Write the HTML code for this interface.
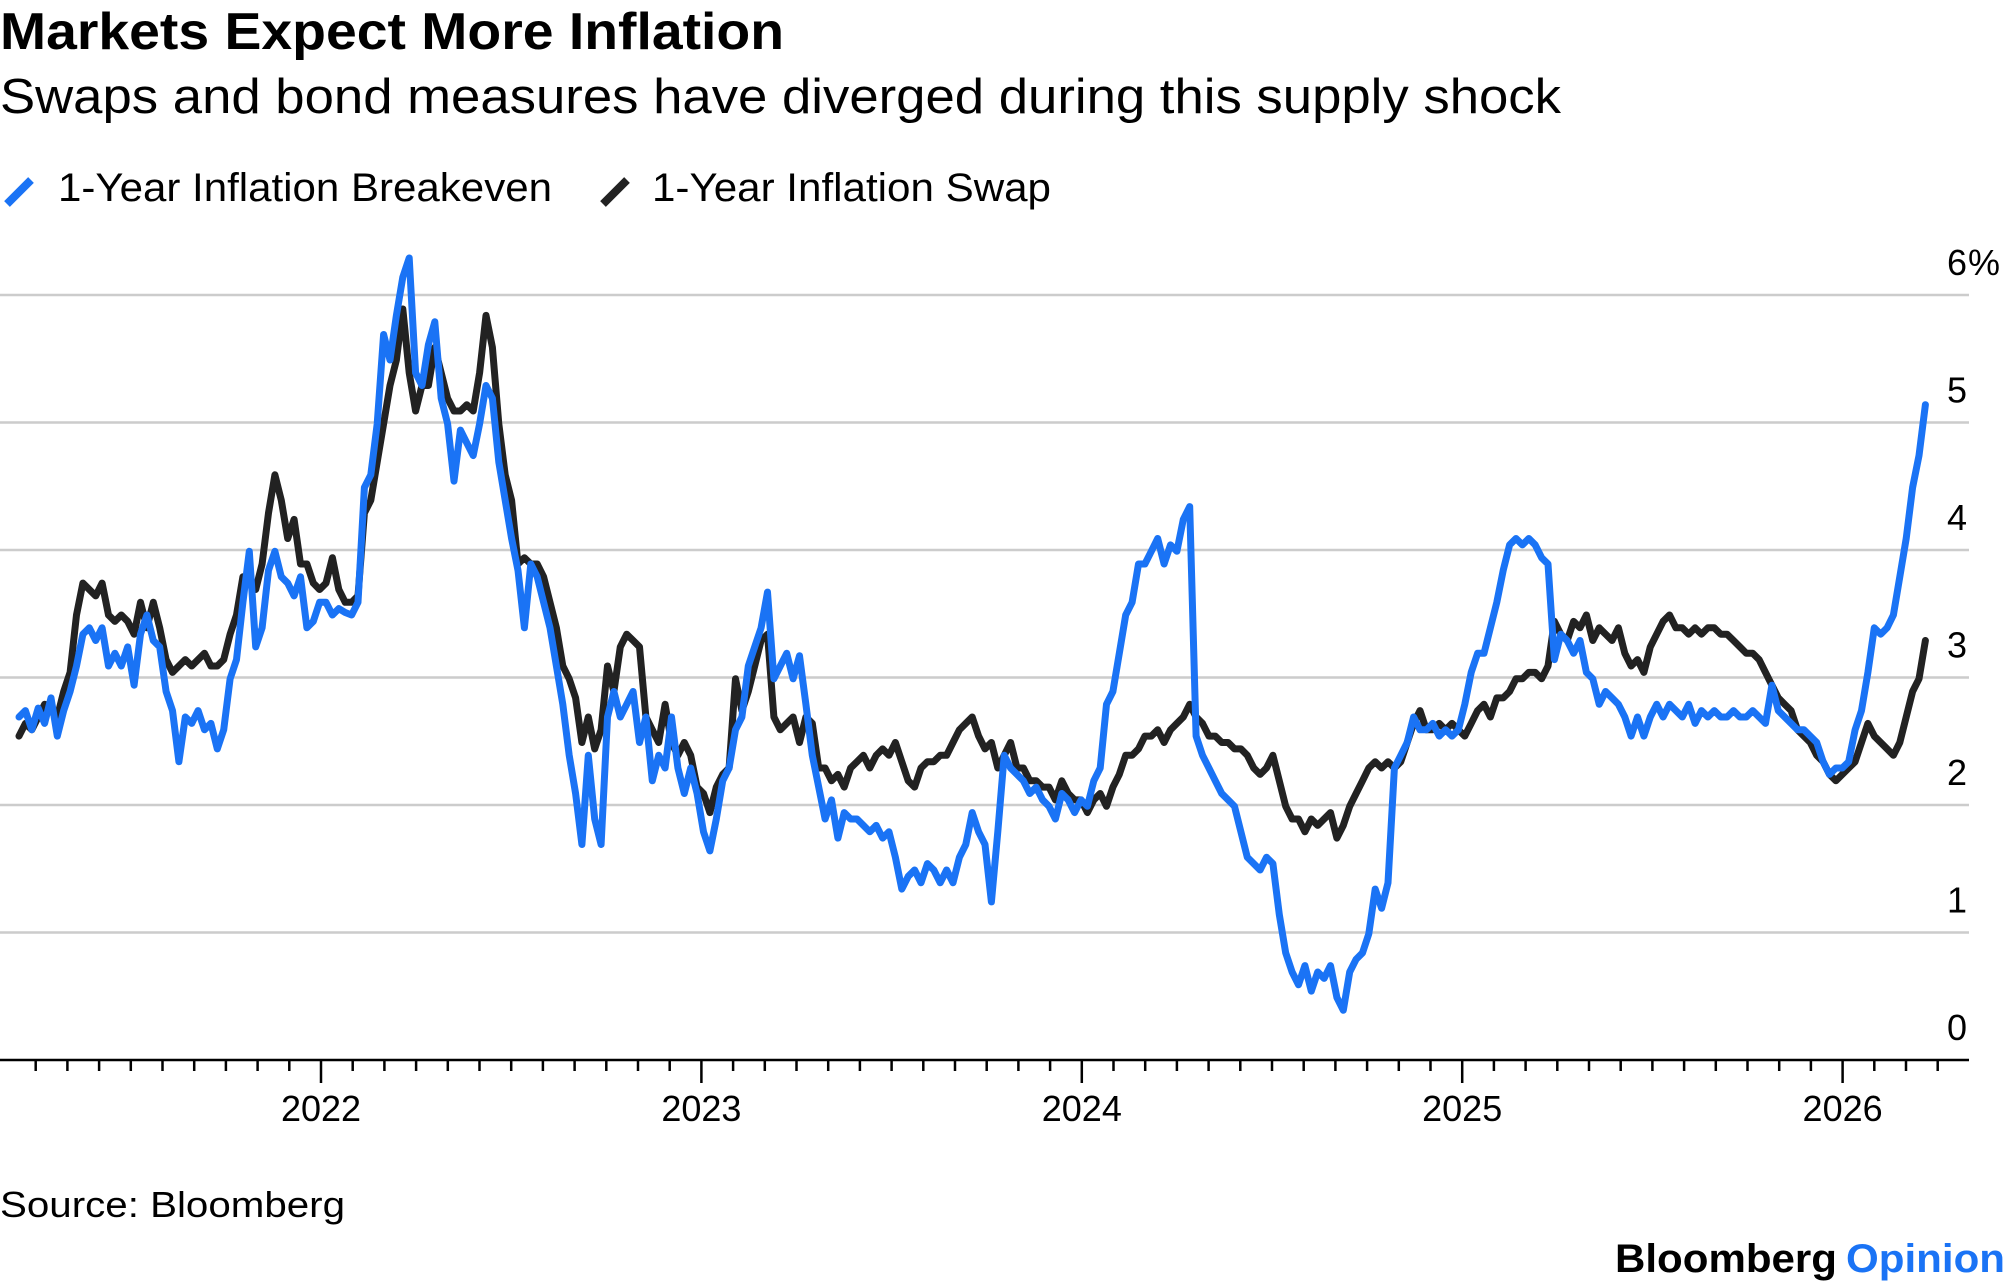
<!DOCTYPE html>
<html><head><meta charset="utf-8"><style>
html,body{margin:0;padding:0;background:#fff;}
svg{display:block;font-family:"Liberation Sans",sans-serif;}
</style></head><body>
<svg id="chart" width="2005" height="1287" viewBox="0 0 2005 1287" xmlns="http://www.w3.org/2000/svg">
<text x="0" y="49" font-size="52" font-weight="bold" fill="#000" textLength="784" lengthAdjust="spacingAndGlyphs">Markets Expect More Inflation</text>
<text x="0" y="113" font-size="49" fill="#000" textLength="1561" lengthAdjust="spacingAndGlyphs">Swaps and bond measures have diverged during this supply shock</text>
<g>
<line x1="7" y1="204" x2="31" y2="180" stroke="#1a73f5" stroke-width="8"/>
<text x="58" y="201" font-size="40" fill="#000" textLength="494" lengthAdjust="spacingAndGlyphs">1-Year Inflation Breakeven</text>
<line x1="603" y1="204" x2="627" y2="180" stroke="#222" stroke-width="8"/>
<text x="652" y="201" font-size="40" fill="#000" textLength="399" lengthAdjust="spacingAndGlyphs">1-Year Inflation Swap</text>
</g>
<g id="grid"></g>
<g id="axis"></g>
<g id="series"></g>
<text x="0" y="1217" font-size="36" fill="#000" textLength="345" lengthAdjust="spacingAndGlyphs">Source: Bloomberg</text>
<text x="1615" y="1272" font-size="40" font-weight="bold" fill="#000"><tspan textLength="222" lengthAdjust="spacingAndGlyphs">Bloomberg</tspan><tspan x="1846" fill="#1a73f5" textLength="159" lengthAdjust="spacingAndGlyphs">Opinion</tspan></text>
</svg>
<script>
const yTicks = [0, 1, 2, 3, 4, 5, 6];
const yTickLabels = ["0", "1", "2", "3", "4", "5", "6"];
const xYears = [2022, 2023, 2024, 2025, 2026];
const xYearLabels = ["2022", "2023", "2024", "2025", "2026"];
const startDate = 2021.206;
const stepYears = 0.016818;
const breakeven = [2.69,2.74,2.59,2.76,2.64,2.84,2.54,2.74,2.89,3.09,3.34,3.39,3.29,3.39,3.09,3.19,3.09,3.24,2.94,3.34,3.49,3.29,3.24,2.89,2.74,2.34,2.69,2.64,2.74,2.59,2.64,2.44,2.59,2.99,3.14,3.59,3.99,3.24,3.39,3.84,3.99,3.79,3.74,3.64,3.79,3.39,3.44,3.59,3.59,3.49,3.54,3.51,3.49,3.59,4.49,4.59,4.99,5.69,5.49,5.84,6.14,6.29,5.39,5.29,5.61,5.79,5.19,4.99,4.54,4.94,4.84,4.74,4.99,5.29,5.19,4.69,4.39,4.09,3.84,3.39,3.89,3.79,3.59,3.39,3.09,2.79,2.39,2.09,1.69,2.39,1.89,1.69,2.69,2.89,2.69,2.79,2.89,2.49,2.69,2.19,2.39,2.29,2.69,2.29,2.09,2.29,2.09,1.79,1.64,1.89,2.19,2.29,2.59,2.69,3.09,3.24,3.39,3.67,2.99,3.09,3.19,2.99,3.17,2.79,2.39,2.14,1.89,2.04,1.74,1.94,1.89,1.89,1.84,1.79,1.84,1.74,1.79,1.59,1.34,1.44,1.49,1.39,1.54,1.49,1.39,1.49,1.39,1.59,1.69,1.94,1.79,1.69,1.24,1.79,2.39,2.29,2.24,2.19,2.09,2.14,2.04,1.99,1.89,2.09,2.04,1.94,2.04,1.99,2.19,2.29,2.79,2.89,3.19,3.49,3.59,3.89,3.89,3.99,4.09,3.89,4.04,3.99,4.24,4.34,2.54,2.39,2.29,2.19,2.09,2.04,1.99,1.79,1.59,1.54,1.49,1.59,1.54,1.14,0.84,0.69,0.59,0.74,0.54,0.69,0.64,0.74,0.49,0.39,0.69,0.79,0.84,0.99,1.34,1.19,1.39,2.29,2.39,2.49,2.69,2.59,2.59,2.64,2.54,2.59,2.54,2.59,2.79,3.04,3.19,3.19,3.39,3.59,3.84,4.04,4.09,4.04,4.09,4.04,3.94,3.89,3.14,3.34,3.29,3.19,3.29,3.04,2.99,2.79,2.89,2.84,2.79,2.69,2.54,2.69,2.54,2.69,2.79,2.69,2.79,2.74,2.69,2.79,2.64,2.74,2.69,2.74,2.69,2.69,2.74,2.69,2.69,2.74,2.69,2.64,2.94,2.74,2.69,2.64,2.59,2.59,2.54,2.49,2.34,2.24,2.29,2.29,2.34,2.59,2.74,3.04,3.39,3.34,3.39,3.49,3.79,4.09,4.49,4.74,5.14];
const swap = [2.54,2.64,2.59,2.69,2.79,2.74,2.69,2.89,3.04,3.49,3.74,3.69,3.64,3.74,3.49,3.44,3.49,3.44,3.34,3.59,3.39,3.59,3.39,3.14,3.04,3.09,3.14,3.09,3.14,3.19,3.09,3.09,3.14,3.34,3.49,3.79,3.79,3.69,3.89,4.29,4.59,4.39,4.09,4.24,3.89,3.89,3.74,3.69,3.74,3.94,3.69,3.59,3.59,3.64,4.29,4.39,4.69,4.99,5.29,5.49,5.89,5.39,5.09,5.29,5.29,5.59,5.39,5.19,5.09,5.09,5.14,5.09,5.39,5.84,5.59,4.99,4.59,4.39,3.89,3.94,3.89,3.89,3.79,3.59,3.39,3.09,2.99,2.84,2.49,2.69,2.44,2.59,3.09,2.89,3.24,3.34,3.29,3.24,2.69,2.59,2.49,2.79,2.49,2.39,2.49,2.39,2.14,2.09,1.94,2.14,2.24,2.29,2.99,2.74,2.89,3.09,3.29,3.34,2.69,2.59,2.64,2.69,2.49,2.69,2.64,2.29,2.29,2.19,2.24,2.14,2.29,2.34,2.39,2.29,2.39,2.44,2.39,2.49,2.34,2.19,2.14,2.29,2.34,2.34,2.39,2.39,2.49,2.59,2.64,2.69,2.54,2.44,2.49,2.29,2.39,2.49,2.29,2.29,2.19,2.19,2.14,2.14,2.04,2.19,2.09,2.04,2.04,1.94,2.04,2.09,1.99,2.14,2.24,2.39,2.39,2.44,2.54,2.54,2.59,2.49,2.59,2.64,2.69,2.79,2.69,2.64,2.54,2.54,2.49,2.49,2.44,2.44,2.39,2.29,2.24,2.29,2.39,2.19,1.99,1.89,1.89,1.79,1.89,1.84,1.89,1.94,1.74,1.84,1.99,2.09,2.19,2.29,2.34,2.29,2.34,2.29,2.34,2.49,2.64,2.74,2.59,2.59,2.64,2.59,2.64,2.59,2.54,2.64,2.74,2.79,2.69,2.84,2.84,2.89,2.99,2.99,3.04,3.04,2.99,3.09,3.44,3.34,3.29,3.44,3.39,3.49,3.29,3.39,3.34,3.29,3.39,3.19,3.09,3.14,3.04,3.24,3.34,3.44,3.49,3.39,3.39,3.34,3.39,3.34,3.39,3.39,3.34,3.34,3.29,3.24,3.19,3.19,3.14,3.04,2.94,2.84,2.79,2.74,2.59,2.54,2.49,2.39,2.34,2.24,2.19,2.24,2.29,2.34,2.49,2.64,2.54,2.49,2.44,2.39,2.49,2.69,2.89,2.99,3.29];

const NS = "http://www.w3.org/2000/svg";
function xScale(year) { return 321 + (year - 2022) * 380.4; }
function yScale(v) { return 1060 - v * 127.5; }
function mk(tag, attrs, parent) {
  const el = document.createElementNS(NS, tag);
  for (const k in attrs) el.setAttribute(k, attrs[k]);
  parent.appendChild(el);
  return el;
}
const grid = document.getElementById('grid');
const axis = document.getElementById('axis');
const series = document.getElementById('series');

yTicks.forEach((t, i) => {
  if (t > 0) {
    const gl = mk('line', {x1: 0, x2: 1969, y1: yScale(t), y2: yScale(t), stroke: '#cccccc', 'stroke-width': 2.5}, grid);
    
    
  }
  const lb = mk('text', {x: 1967, y: yScale(t) - 20, 'font-size': 36, 'text-anchor': 'end', fill: '#000'}, axis);
  lb.textContent = yTickLabels[i];
  
  
  if (t === 6) {
    const pc = mk('text', {x: 1968, y: yScale(t) - 20, 'font-size': 36, fill: '#000'}, axis);
    pc.textContent = '%';
    
    
  }
});

const base = mk('line', {x1: 0, x2: 1969, y1: 1060, y2: 1060, stroke: '#000', 'stroke-width': 2.5}, axis);



for (let m = 0; m <= 60; m++) {
  const yr = 2021.25 + m / 12;
  const major = Math.abs(yr - Math.round(yr)) < 0.001;
  const tk = mk('line', {x1: xScale(yr), x2: xScale(yr), y1: 1060, y2: major ? 1083 : 1071, stroke: '#000', 'stroke-width': 2.5}, axis);
  
  
}
xYears.forEach((yr, i) => {
  const t = mk('text', {x: xScale(yr), y: 1121, 'font-size': 36, 'text-anchor': 'middle', fill: '#000'}, axis);
  t.textContent = xYearLabels[i];
  
  
});

function drawLine(vals, color, name) {
  let d = '';
  vals.forEach((v, i) => {
    const x = xScale(startDate + i * stepYears), y = yScale(v);
    d += (i ? 'L' : 'M') + x.toFixed(1) + ',' + y.toFixed(1);
  });
  const p = mk('path', {d: d, fill: 'none', stroke: color, 'stroke-width': 7, 'stroke-linejoin': 'round', 'stroke-linecap': 'round'}, series);
  
  
}
drawLine(swap, '#222222', 'swap-line');
drawLine(breakeven, '#1a73f5', 'breakeven-line');
</script>
</body></html>
